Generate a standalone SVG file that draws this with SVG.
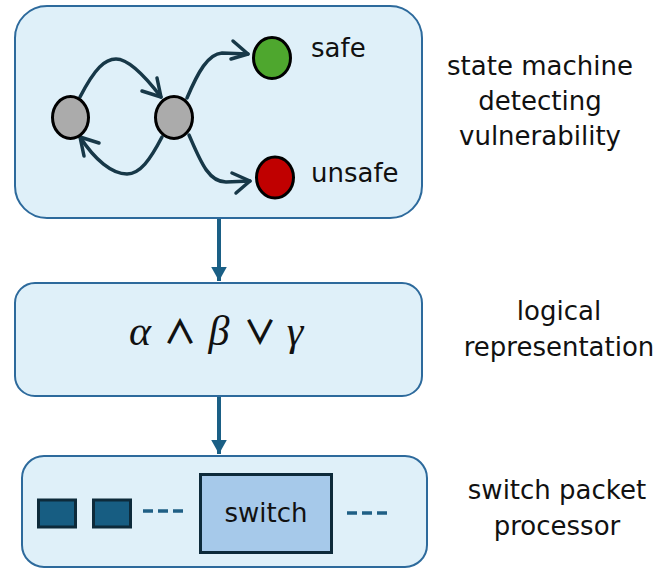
<svg xmlns="http://www.w3.org/2000/svg" width="665" height="568" viewBox="0 0 665 568">
  <style>
    .panel { fill: #dff0f9; stroke: #2d6a9c; stroke-width: 2; }
    .label { font-family: "DejaVu Sans", "Liberation Sans", sans-serif; font-size: 26px; fill: #111; }
    .mid { text-anchor: middle; }
    .state { stroke: #000; stroke-width: 3; }
    .edge { fill: none; stroke: #173848; stroke-width: 3.5; stroke-linecap: round; stroke-linejoin: round; }
    .flow { stroke: #1a5f85; stroke-width: 4; }
    .dash { stroke: #1f5f85; stroke-width: 3.5; stroke-dasharray: 10 5; }
    .pkt { fill: #175d82; stroke: #0d2a3a; stroke-width: 3; }
    .var { font-family: "Liberation Serif", "DejaVu Serif", serif; font-style: italic; font-size: 42px; fill: #111; text-anchor: middle; }
    .op { font-family: "Noto Sans CJK SC", "DejaVu Sans", sans-serif; font-weight: 700; font-size: 33px; fill: #111; text-anchor: middle; }
  </style>
  <defs>
    <marker id="tri" markerWidth="4" markerHeight="4" refX="3.6" refY="2" orient="auto" markerUnits="strokeWidth">
      <path d="M0,0 L3.6,2 L0,4 Z" fill="#1a5f85"/>
    </marker>
  </defs>

  <!-- flow between stages -->
  <g id="connectors">
    <line class="flow" x1="219" y1="218" x2="219" y2="281" marker-end="url(#tri)"/>
    <line class="flow" x1="219" y1="396" x2="219" y2="454" marker-end="url(#tri)"/>
  </g>

  <!-- stage 1: state machine -->
  <g id="state-machine">
    <rect class="panel" x="15" y="6" width="407" height="212" rx="32"/>
    <!-- transitions -->
    <path class="edge" d="M80,97 C95,68 105,59 116,59 C130,59 148,80 161,97"/>
    <path class="edge" d="M142,91 L161,97 L157,78"/>
    <path class="edge" d="M162,137 C150,160 140,174 127,174 C112,174 95,160 80,137"/>
    <path class="edge" d="M99,143 L80,137 L84,156"/>
    <path class="edge" d="M187,98 C198,72 208,54 222,53 L248,54"/>
    <path class="edge" d="M233,41 L248,54 L231,59"/>
    <path class="edge" d="M189,135 C200,160 208,182 226,182 L250,181"/>
    <path class="edge" d="M232,173 L250,181 L236,193"/>
    <!-- states -->
    <ellipse class="state" cx="70.5" cy="117.5" rx="18" ry="21" fill="#ababab"/>
    <ellipse class="state" cx="174" cy="117.5" rx="18.5" ry="21" fill="#ababab"/>
    <ellipse class="state" cx="272" cy="58" rx="18.5" ry="20.5" fill="#4ea72e"/>
    <ellipse class="state" cx="275" cy="177.5" rx="18.5" ry="20.5" fill="#c00000"/>
    <text class="label" x="311" y="57">safe</text>
    <text class="label" x="311" y="182">unsafe</text>
  </g>
  <g id="label-state-machine">
    <text class="label mid" x="540" y="75">state machine</text>
    <text class="label mid" x="540" y="110">detecting</text>
    <text class="label mid" x="540" y="145">vulnerability</text>
  </g>

  <!-- stage 2: logical formula, one glyph per slot -->
  <g id="logic">
    <rect class="panel" x="15" y="283" width="407" height="113" rx="20"/>
    <text class="var" x="140" y="345">α</text>
    <text class="op" x="180" y="344">∧</text>
    <text class="var" x="219" y="345">β</text>
    <text class="op" x="260" y="344">∨</text>
    <text class="var" x="295" y="345">γ</text>
  </g>
  <g id="label-logic">
    <text class="label mid" x="559" y="320">logical</text>
    <text class="label mid" x="559" y="356">representation</text>
  </g>

  <!-- stage 3: switch -->
  <g id="switch-processor">
    <rect class="panel" x="22" y="456" width="405" height="111" rx="22"/>
    <rect class="pkt" x="38.5" y="500" width="37" height="27"/>
    <rect class="pkt" x="93.5" y="500" width="37" height="27"/>
    <line class="dash" x1="143" y1="511" x2="185" y2="511"/>
    <rect x="200.5" y="474.5" width="131" height="78" fill="#a6c9ea" stroke="#0d2a3a" stroke-width="3"/>
    <text class="label mid" x="266" y="522">switch</text>
    <line class="dash" x1="347" y1="513" x2="389" y2="513"/>
  </g>
  <g id="label-switch">
    <text class="label mid" x="557" y="499">switch packet</text>
    <text class="label mid" x="557" y="535">processor</text>
  </g>
</svg>
